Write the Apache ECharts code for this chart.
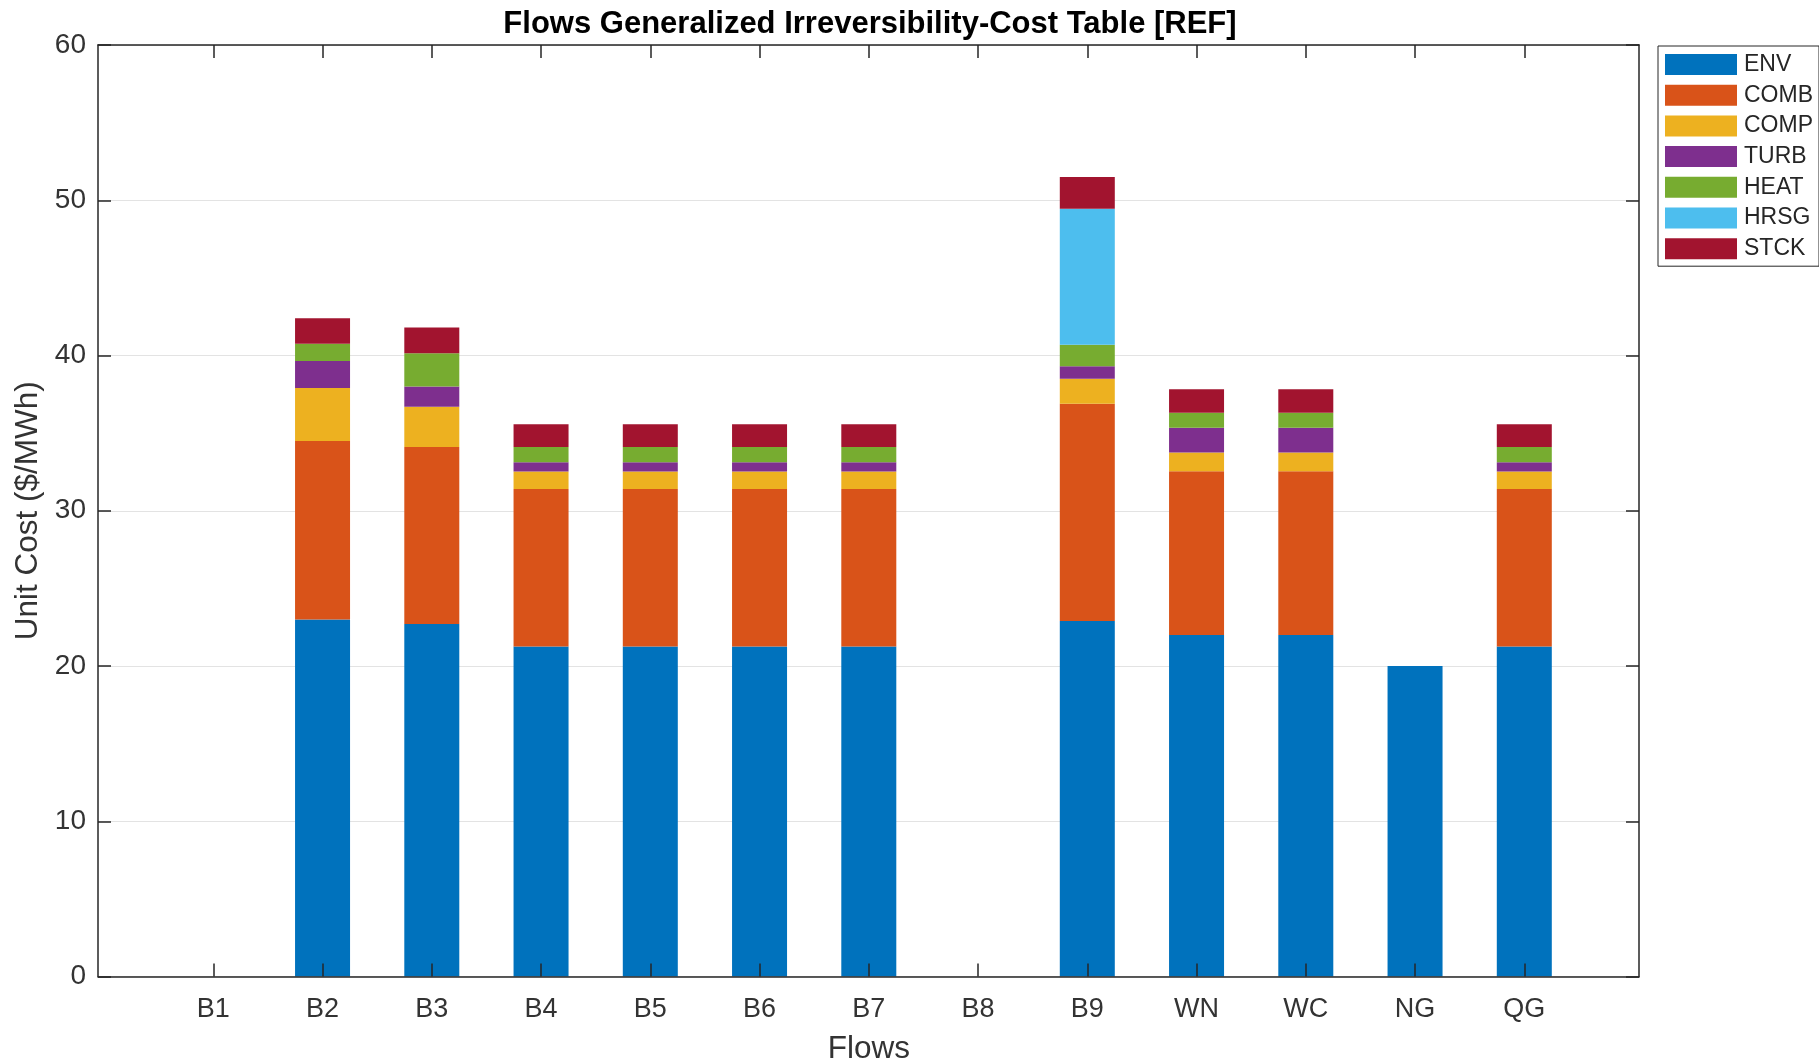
<!DOCTYPE html>
<html>
<head>
<meta charset="utf-8">
<script src="https://cdn.jsdelivr.net/npm/echarts@6/dist/echarts.min.js"></script>
<style>
html,body{margin:0;padding:0;background:#fff;}
#chart{width:1819px;height:1064px;}
</style>
</head>
<body>
<div id="chart"></div>
<script>
const categories = ['B1','B2','B3','B4','B5','B6','B7','B8','B9','WN','WC','NG','QG'];
const seriesNames = ['ENV','COMB','COMP','TURB','HEAT','HRSG','STCK'];
const env  = [0, 23.0, 22.7, 21.25, 21.25, 21.25, 21.25, 0, 22.9, 22.0, 22.0, 20.0, 21.25];
const comb = [0, 11.5, 11.4, 10.15, 10.15, 10.15, 10.15, 0, 14.0, 10.55, 10.55, 0, 10.15];
const comp = [0, 3.4, 2.6, 1.13, 1.13, 1.13, 1.13, 0, 1.6, 1.2, 1.2, 0, 1.13];
const turb = [0, 1.75, 1.3, 0.6, 0.6, 0.6, 0.6, 0, 0.8, 1.6, 1.6, 0, 0.6];
const heat = [0, 1.1, 2.15, 0.98, 0.98, 0.98, 0.98, 0, 1.4, 0.97, 0.97, 0, 0.98];
const hrsg = [0, 0, 0, 0, 0, 0, 0, 0, 8.75, 0, 0, 0, 0];
const stck = [0, 1.65, 1.65, 1.46, 1.46, 1.46, 1.46, 0, 2.05, 1.5, 1.5, 0, 1.46];
const yTicks = [0, 10, 20, 30, 40, 50, 60];
const colors = ['#0072BD','#D95319','#EDB120','#7E2F8E','#77AC30','#4DBEEE','#A2142F'];

const allData = [env, comb, comp, turb, heat, hrsg, stck];
// one empty slot at each end so the category axis spans positions 0..14
const axisCats = [''].concat(categories, ['']);
const pad = arr => [null].concat(arr, [null]);

const AX = '#262626';
const TXT = '#333333';
const FONT = 'Liberation Sans, Arial, Helvetica, sans-serif';
const tickShow = (idx, val) => val !== '';

const frameAxis = (pos) => ({
  type: 'value', gridIndex: 0, position: pos, min: 0, max: 1, z: 5,
  axisLine: {show: true, onZero: false, lineStyle: {color: AX, width: 1.5}},
  axisTick: {show: false}, axisLabel: {show: false}, splitLine: {show: false}
});

const chart = echarts.init(document.getElementById('chart'), null, {renderer: 'canvas'});
chart.setOption({
  animation: false,
  backgroundColor: '#ffffff',
  title: {
    text: 'Flows Generalized Irreversibility-Cost Table [REF]',
    left: 865, top: 4, textAlign: 'center',
    textStyle: {fontFamily: FONT, fontSize: 31, fontWeight: 'bold', color: '#000'}
  },
  legend: {
    orient: 'vertical',
    left: 1658, top: 46,
    padding: [7, 6, 6, 7],
    itemWidth: 72, itemHeight: 21, itemGap: 7.7,
    icon: 'rect',
    borderColor: AX, borderWidth: 1, backgroundColor: '#fff',
    textStyle: {fontFamily: FONT, fontSize: 23, color: AX, padding: [0, 0, 0, 2]},
    data: seriesNames
  },
  grid: [
    {left: 98, right: 180, top: 45, bottom: 87.5, containLabel: false, outerBoundsMode: 'none'},
    {left: 104.05, right: 185.45, top: 45, bottom: 87.5, containLabel: false, outerBoundsMode: 'none'}
  ],
  xAxis: [
    frameAxis('bottom'),
    frameAxis('top'),
    {
      type: 'category', gridIndex: 1, data: axisCats, boundaryGap: false, position: 'bottom', z: 5,
      name: 'Flows', nameLocation: 'middle', nameGap: 57,
      nameTextStyle: {fontFamily: FONT, fontSize: 31.5, color: TXT},
      axisLine: {show: false, onZero: false},
      axisTick: {show: true, inside: true, length: 13, interval: tickShow, lineStyle: {color: AX, width: 1.5}},
      axisLabel: {fontFamily: FONT, fontSize: 27, color: TXT, margin: 19.5, interval: 0},
      splitLine: {show: false}
    },
    {
      type: 'category', gridIndex: 1, data: axisCats, boundaryGap: false, position: 'top', z: 5,
      axisLine: {show: false, onZero: false},
      axisTick: {show: true, inside: true, length: 13, interval: tickShow, lineStyle: {color: AX, width: 1.5}},
      axisLabel: {show: false},
      splitLine: {show: false}
    }
  ],
  yAxis: [
    {
      type: 'value', gridIndex: 0, min: 0, max: 60, interval: 10, position: 'left',
      name: 'Unit Cost ($/MWh)', nameLocation: 'middle', nameGap: 43, nameRotate: 90,
      nameTextStyle: {fontFamily: FONT, fontSize: 31.5, color: TXT},
      axisLine: {show: true, onZero: false, lineStyle: {color: AX, width: 1.5}},
      axisTick: {show: true, inside: true, length: 13, lineStyle: {color: AX, width: 1.5}},
      axisLabel: {fontFamily: FONT, fontSize: 28, color: TXT, margin: 12,
        formatter: v => yTicks.indexOf(v) >= 0 ? String(v) : ''},
      splitLine: {show: true, lineStyle: {color: '#e3e3e3', width: 1.2}}
    },
    {
      type: 'value', gridIndex: 0, min: 0, max: 60, interval: 10, position: 'right',
      axisLine: {show: true, onZero: false, lineStyle: {color: AX, width: 1.5}},
      axisTick: {show: true, inside: true, length: 13, lineStyle: {color: AX, width: 1.5}},
      axisLabel: {show: false},
      splitLine: {show: false}
    },
    {
      type: 'value', gridIndex: 1, min: 0, max: 60, interval: 10, show: false
    }
  ],
  series: seriesNames.map((name, i) => ({
    name: name,
    type: 'bar',
    stack: 'total',
    xAxisIndex: 2, yAxisIndex: 2,
    barWidth: 55,
    itemStyle: {color: colors[i]},
    emphasis: {disabled: true},
    data: pad(allData[i])
  }))
});
</script>
</body>
</html>
